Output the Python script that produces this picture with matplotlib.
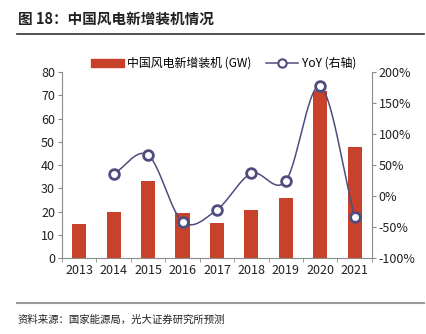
import numpy as np
import matplotlib
matplotlib.use("Agg")
import matplotlib.pyplot as plt
from matplotlib.lines import Line2D

plt.rcParams['font.family'] = ['Noto Sans CJK SC', 'DejaVu Sans']

years = ['2013', '2014', '2015', '2016', '2017', '2018', '2019', '2020', '2021']
capacity = [14.7, 19.7, 33.0, 19.3, 15.0, 20.6, 25.7, 71.7, 47.6]
yoy_years = ['2014', '2015', '2016', '2017', '2018', '2019', '2020', '2021']
yoy = [35.5, 66.0, -41.5, -22.0, 36.5, 24.5, 177.0, -33.5]

bar_color = '#C8412A'
line_color = '#4F4C7E'
spine_color = '#8C8C8C'


def smooth(x, y, n=30):
    # catmull-rom curve through the points, only for drawing the line
    x = np.asarray(x, float)
    y = np.asarray(y, float)
    px = np.concatenate([[2 * x[0] - x[1]], x, [2 * x[-1] - x[-2]]])
    py = np.concatenate([[2 * y[0] - y[1]], y, [2 * y[-1] - y[-2]]])
    xs, ys = [], []
    t = np.linspace(0, 1, n)
    for i in range(1, len(px) - 2):
        for p, out in ((px, xs), (py, ys)):
            p0, p1, p2, p3 = p[i - 1], p[i], p[i + 1], p[i + 2]
            out.extend(0.5 * (2 * p1 + (-p0 + p2) * t + (2 * p0 - 5 * p1 + 4 * p2 - p3) * t ** 2
                              + (-p0 + 3 * p1 - 3 * p2 + p3) * t ** 3))
    return np.array(xs), np.array(ys)


fig = plt.figure(figsize=(4.26, 3.34), dpi=100)
ax = fig.add_axes([0.1455, 0.2275, 0.7275, 0.5565])

ind = np.arange(len(years))
ax.bar(ind, capacity, 0.41, color=bar_color, zorder=2)
ax.set_xlim(-0.5, len(years) - 0.5)
ax.set_ylim(0, 80)
ax.set_yticks(np.arange(0, 81, 10))
ax.set_xticks(ind)
ax.set_xticklabels(years)
ax.set_xticks(np.arange(-0.5, len(years), 1), minor=True)
ax.tick_params(axis='x', which='major', length=0, labelsize=9, colors='#222222', pad=4)
ax.tick_params(axis='x', which='minor', length=3, color=spine_color)
ax.tick_params(axis='y', length=3, color=spine_color, labelsize=9, labelcolor='#222222', pad=2)
for s in ['top', 'right']:
    ax.spines[s].set_visible(False)
for s in ['left', 'bottom']:
    ax.spines[s].set_color(spine_color)

ax2 = ax.twinx()
yx = [years.index(y) for y in yoy_years]
sx, sy = smooth(yx, yoy)
ax2.plot(sx, sy, color=line_color, lw=1.1, zorder=3)
ax2.plot(yx, yoy, 'o', ms=7, mfc='white', mec=line_color, mew=2, zorder=4)
ax2.set_ylim(-100, 200)
ax2.set_yticks(np.arange(-100, 201, 50))
ax2.set_yticklabels([f'{v}%' for v in range(-100, 201, 50)])
ax2.tick_params(axis='y', length=3, color=spine_color, labelsize=9, labelcolor='#222222', pad=2)
for s in ['top', 'left', 'bottom']:
    ax2.spines[s].set_visible(False)
ax2.spines['right'].set_color(spine_color)

handles = [
    plt.Rectangle((0, 0), 1, 1, color=bar_color),
    Line2D([0], [0], color=line_color, lw=1.1, marker='o', ms=6, mfc='white', mec=line_color, mew=1.5),
]
fig.legend(handles, ['中国风电新增装机 (GW)', 'YoY (右轴)'], loc='center', ncol=2,
           bbox_to_anchor=(0.525, 0.81), frameon=False, fontsize=8.6, handlelength=2.7,
           handleheight=0.6, columnspacing=1.2, handletextpad=0.3)

fig.text(0.042, 0.945, '图 18：中国风电新增装机情况', fontsize=10.5, fontweight='bold',
         va='center', ha='left', color='#222222')
fig.add_artist(Line2D([0.04, 0.995], [0.898, 0.898], color='#333333', lw=1.2))
fig.add_artist(Line2D([0.04, 0.995], [0.094, 0.094], color='#999999', lw=1.5))
fig.text(0.042, 0.042, '资料来源：国家能源局，光大证券研究所预测', fontsize=7.5,
         va='center', ha='left', color='#222222')

fig.savefig('out.png', dpi=100)
